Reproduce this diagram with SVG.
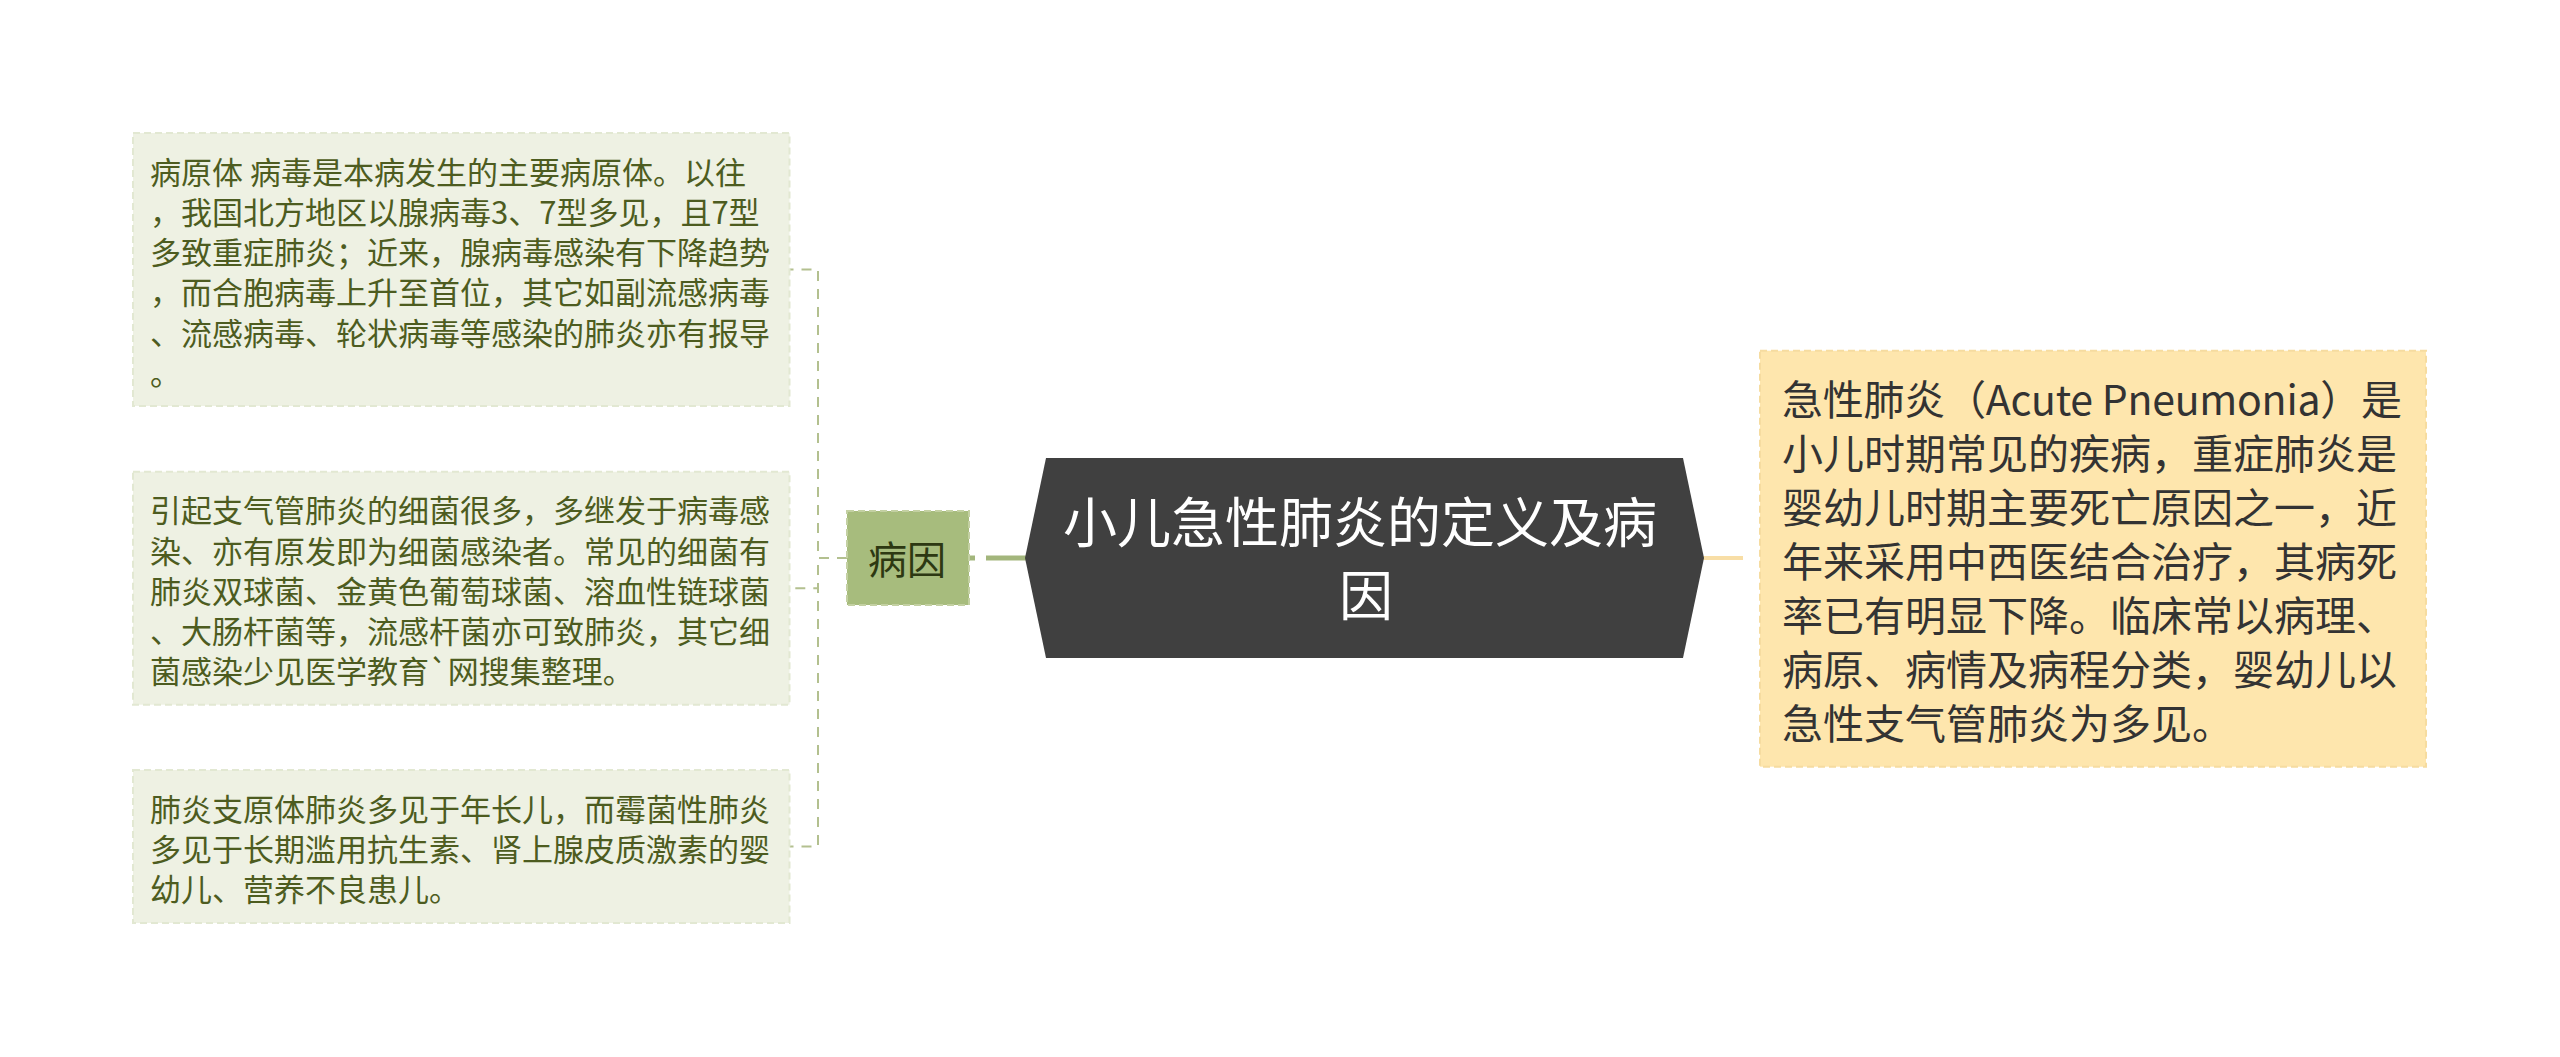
<svg xmlns="http://www.w3.org/2000/svg" width="2560" height="1057" viewBox="0 0 2560 1057">
<style>
.cjk{font-family:"Noto Sans CJK SC","Noto Sans",sans-serif;}
.leaf{fill:#eef1e3;stroke:#e2e8d2;stroke-width:2;stroke-dasharray:7 4;}
.leaftxt{font-size:31px;fill:#4d5c20;}
.dash{fill:none;stroke:#b3c08f;stroke-width:2;stroke-dasharray:10 8;}
</style>
<rect width="2560" height="1057" fill="#ffffff"/>
<g id="connectors">
<path class="dash" d="M847,558 H818 V269.5 H789.5"/>
<path class="dash" d="M847,558 H818 V588.3 H789.5"/>
<path class="dash" d="M847,558 H818 V846.5 H789.5"/>
<line x1="969" y1="558" x2="975" y2="558" stroke="#a3b67c" stroke-width="5"/>
<line x1="986" y1="558" x2="1027" y2="558" stroke="#a3b67c" stroke-width="5"/>
<line x1="1702" y1="558" x2="1743" y2="558" stroke="#f8dea6" stroke-width="4"/>
</g>
<g id="leaf1">
<rect class="leaf" x="133" y="133" width="656.5" height="273"/>
<text class="cjk leaftxt">
<tspan x="150" y="183.5">病原体 病毒是本病发生的主要病原体。以往</tspan>
<tspan x="150" y="223.8">，我国北方地区以腺病毒3、7型多见，且7型</tspan>
<tspan x="150" y="264.1">多致重症肺炎；近来，腺病毒感染有下降趋势</tspan>
<tspan x="150" y="304.4">，而合胞病毒上升至首位，其它如副流感病毒</tspan>
<tspan x="150" y="344.7">、流感病毒、轮状病毒等感染的肺炎亦有报导</tspan>
<tspan x="150" y="385">。</tspan>
</text>
</g>
<g id="leaf2">
<rect class="leaf" x="133" y="471.7" width="656.5" height="233"/>
<text class="cjk leaftxt">
<tspan x="150" y="522.2">引起支气管肺炎的细菌很多，多继发于病毒感</tspan>
<tspan x="150" y="562.5">染、亦有原发即为细菌感染者。常见的细菌有</tspan>
<tspan x="150" y="602.8">肺炎双球菌、金黄色葡萄球菌、溶血性链球菌</tspan>
<tspan x="150" y="643.1">、大肠杆菌等，流感杆菌亦可致肺炎，其它细</tspan>
<tspan x="150" y="683.4">菌感染少见医学教育`网搜集整理。</tspan>
</text>
</g>
<g id="leaf3">
<rect class="leaf" x="133" y="770" width="656.5" height="153"/>
<text class="cjk leaftxt">
<tspan x="150" y="820.5">肺炎支原体肺炎多见于年长儿，而霉菌性肺炎</tspan>
<tspan x="150" y="860.8">多见于长期滥用抗生素、肾上腺皮质激素的婴</tspan>
<tspan x="150" y="901.1">幼儿、营养不良患儿。</tspan>
</text>
</g>
<g id="branch">
<rect x="847" y="511" width="122" height="94" fill="#a7bc7d" stroke="#c3d0a2" stroke-width="2" stroke-dasharray="7 4"/>
<text class="cjk" x="907" y="574" font-size="39" fill="#2d3812" text-anchor="middle">病因</text>
</g>
<g id="root">
<polygon points="1025,558 1046,458 1683,458 1704,558 1683,658 1046,658" fill="#404040"/>
<text class="cjk" font-size="54" fill="#ffffff" text-anchor="middle">
<tspan x="1366" y="542.5">小儿急性肺炎的定义及病</tspan>
<tspan x="1366" y="615.5">因</tspan>
</text>
</g>
<g id="definition">
<rect x="1760" y="350.7" width="666" height="416" fill="#fee6ad" stroke="#f6dca0" stroke-width="2" stroke-dasharray="7 4"/>
<text class="cjk" font-size="41" fill="#333333">
<tspan x="1782" y="414.6" textLength="620" lengthAdjust="spacing">急性肺炎（Acute Pneumonia）是</tspan>
<tspan x="1782" y="468.6">小儿时期常见的疾病，重症肺炎是</tspan>
<tspan x="1782" y="522.6">婴幼儿时期主要死亡原因之一，近</tspan>
<tspan x="1782" y="576.6">年来采用中西医结合治疗，其病死</tspan>
<tspan x="1782" y="630.6">率已有明显下降。临床常以病理、</tspan>
<tspan x="1782" y="684.6">病原、病情及病程分类，婴幼儿以</tspan>
<tspan x="1782" y="738.6">急性支气管肺炎为多见。</tspan>
</text>
</g>
</svg>
